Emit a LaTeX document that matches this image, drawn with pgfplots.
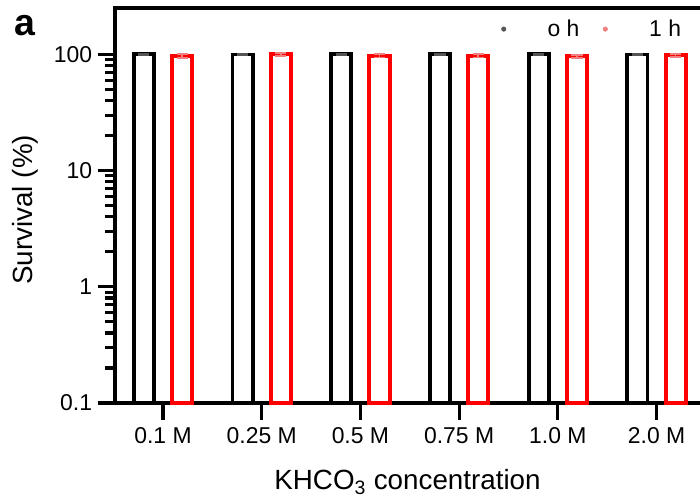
\documentclass[border=0pt]{standalone}
\usepackage{pgfplots}
\pgfplotsset{compat=1.18}
\usepackage{fontspec}
\setmainfont{Liberation Sans}
\definecolor{barred}{HTML}{FF0000}
\definecolor{dotgray}{HTML}{555555}
\definecolor{dotred}{HTML}{F08080}
\begin{document}
\begin{tikzpicture}
\begin{axis}[
  name=ax,
  scale only axis,
  width=421.2pt, height=284.4pt,
  ymode=log,
  log origin y=infty,
  ymin=0.1, ymax=250,
  xmin=-0.486, xmax=5.44,
  ybar=13pt,
  bar width=14.5pt,
  axis lines*=left,
  axis line style={line width=2.8pt, line cap=rect},
  clip=false,
  xtick={0,1,2,3,4,5},
  xticklabels={0.1 M,0.25 M,0.5 M,0.75 M,1.0 M,2.0 M},
  ytick={0.1,1,10,100},
  yticklabels={0.1,1,10,100},
  tick align=outside,
  major tick length=12pt,
  minor tick length=7pt,
  every tick/.style={line width=2.2pt, black},
  x tick label style={yshift=-2pt},
  y tick label style={xshift=-1pt},
  tick label style={font=\fontsize{16.5}{19}\selectfont},
  /pgf/number format/assume math mode=true,
  label style={font=\fontsize{20}{23}\selectfont},
  xlabel={KHCO\textsubscript{3} concentration},
  ylabel={Survival (\%)},
  xlabel style={at={(axis description cs:0.5,-0.22)}, anchor=base},
  ylabel style={at={(axis description cs:-0.154,0.489)}, anchor=center},
  legend style={at={(axis description cs:0.98,0.985)}, anchor=north east,
    draw=none, fill=none, font=\fontsize{16.5}{19}\selectfont,
    /tikz/every odd column/.append style={column sep=28pt},
    /tikz/every even column/.append style={column sep=15pt}},
  legend columns=2,
]
\addplot[fill=white, draw=black, line width=2.8pt,
  error bars/.cd, y dir=both, y explicit, error bar style={line width=1.2pt, color=dotgray}, error mark options={rotate=90, mark size=4pt, line width=1.2pt, color=dotgray},
  ]
  coordinates {(0,100) +- (0,1.5) (1,99.5) +- (0,1.5) (2,100) +- (0,1.5) (3,100) +- (0,1.5) (4,100) +- (0,1.5) (5,99.5) +- (0,1.5)};
\addplot[fill=white, draw=barred, line width=2.8pt,
  error bars/.cd, y dir=both, y explicit, error bar style={line width=1.2pt, color=dotred}, error mark options={rotate=90, mark size=4pt, line width=1.2pt, color=dotred},
  ]
  coordinates {(0,97) +- (0,4) (1,100) +- (0,3) (2,97) +- (0,3) (3,97) +- (0,3) (4,96) +- (0,3) (5,98) +- (0,3)};
\addlegendimage{sharp plot, only marks, mark=*, mark size=1.6pt, color=dotgray, fill=dotgray, line width=0.4pt,
  legend image code/.code={\draw[mark repeat=2,mark phase=2] plot coordinates {(0cm,0cm) (0.3cm,0cm) (0.6cm,0cm)};}}
\addlegendimage{sharp plot, only marks, mark=*, mark size=1.6pt, color=dotred, fill=dotred, line width=0.4pt,
  legend image code/.code={\draw[mark repeat=2,mark phase=2] plot coordinates {(0cm,0cm) (0.3cm,0cm) (0.6cm,0cm)};}}
\legend{,,{o h},{1 h}}
\draw[line width=2.8pt, line cap=rect] (rel axis cs:0,1) -- (rel axis cs:1.02,1);
\end{axis}
\node[font=\fontsize{27}{30}\selectfont\bfseries] at ([shift={(-64.8pt,271.4pt)}]ax.south west) {a};
\pgfresetboundingbox
\path[use as bounding box] ([shift={(-82.8pt,-72.72pt)}]ax.south west) rectangle ++(504pt,362.88pt);
\end{tikzpicture}
\end{document}
